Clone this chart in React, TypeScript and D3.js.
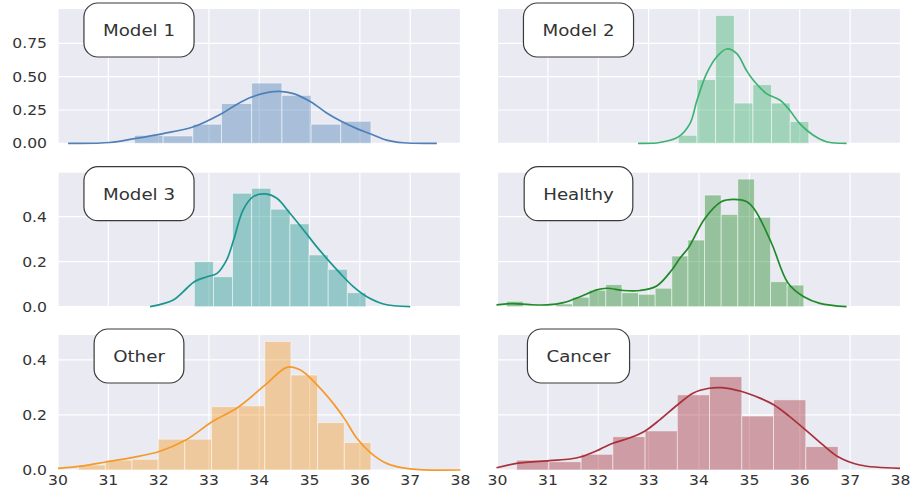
import React, { useEffect, useRef } from "react";
import * as d3 from "d3";

// ---------- data ----------
const panelNames = ["Model 1", "Model 2", "Model 3", "Healthy", "Other", "Cancer"];
const panelColors = ["#4f80b8", "#3cb371", "#1a968f", "#1f8a26", "#f59a2a", "#a8303a"];

const xTicks = [30, 31, 32, 33, 34, 35, 36, 37, 38];
const row1Ticks = [0, 0.25, 0.5, 0.75];
const row1TickLabels = ["0.00", "0.25", "0.50", "0.75"];
const row23Ticks = [0, 0.2, 0.4];
const row23TickLabels = ["0.0", "0.2", "0.4"];

const model1Edges = [31.52, 32.09, 32.68, 33.25, 33.85, 34.45, 35.03, 35.62, 36.22];
const model1Heights = [0.06, 0.055, 0.143, 0.298, 0.452, 0.36, 0.143, 0.165];
const model1KdeX = [30.2, 31.03, 31.52, 32.09, 32.68, 33.25, 33.55, 33.85, 34.15, 34.4, 34.68, 35.03, 35.34, 35.62, 35.94, 36.22, 36.53, 36.86, 37.53];
const model1KdeY = [0, 0.006, 0.035, 0.073, 0.122, 0.222, 0.292, 0.347, 0.38, 0.39, 0.373, 0.31, 0.228, 0.167, 0.11, 0.07, 0.024, 0.004, 0];

const model2Edges = [33.59, 33.96, 34.33, 34.7, 35.07, 35.44, 35.81, 36.18];
const model2Heights = [0.06, 0.478, 0.96, 0.302, 0.44, 0.302, 0.163];
const model2KdeX = [32.79, 33.22, 33.59, 33.82, 33.96, 34.15, 34.35, 34.55, 34.75, 34.94, 35.08, 35.34, 35.61, 35.8, 36.0, 36.27, 36.53, 36.93];
const model2KdeY = [0, 0.006, 0.048, 0.148, 0.323, 0.523, 0.648, 0.708, 0.673, 0.548, 0.473, 0.373, 0.323, 0.248, 0.148, 0.06, 0.012, 0];

const model3Edges = [32.71, 33.09, 33.47, 33.85, 34.23, 34.61, 34.99, 35.37, 35.75, 36.12];
const model3Heights = [0.2, 0.133, 0.504, 0.526, 0.433, 0.368, 0.23, 0.166, 0.062];
const model3KdeX = [31.83, 32.29, 32.56, 32.71, 32.96, 33.16, 33.35, 33.49, 33.68, 33.88, 34.12, 34.35, 34.61, 34.88, 35.14, 35.37, 35.61, 35.87, 36.14, 36.47, 37.0];
const model3KdeY = [0, 0.03, 0.082, 0.111, 0.133, 0.148, 0.207, 0.296, 0.43, 0.489, 0.501, 0.482, 0.415, 0.341, 0.267, 0.207, 0.148, 0.089, 0.044, 0.012, 0];

const healthyEdges = [30.18, 30.51, 30.84, 31.16, 31.49, 31.82, 32.15, 32.47, 32.8, 33.13, 33.46, 33.78, 34.11, 34.44, 34.77, 35.1, 35.42, 35.75, 36.08];
const healthyHeights = [0.024, 0, 0, 0.012, 0.042, 0.073, 0.098, 0.062, 0.055, 0.082, 0.225, 0.296, 0.496, 0.41, 0.567, 0.397, 0.111, 0.096];
const healthyKdeX = [29.98, 30.31, 30.64, 30.98, 31.31, 31.64, 31.97, 32.17, 32.5, 32.83, 33.16, 33.46, 33.62, 33.79, 34.12, 34.45, 34.68, 34.94, 35.11, 35.44, 35.77, 36.08, 36.4, 36.93];
const healthyKdeY = [0.008, 0.014, 0.009, 0.008, 0.018, 0.044, 0.075, 0.082, 0.072, 0.072, 0.092, 0.163, 0.215, 0.262, 0.393, 0.467, 0.477, 0.467, 0.43, 0.282, 0.104, 0.044, 0.015, 0];

const otherEdges = [30.41, 30.94, 31.47, 31.99, 32.52, 33.05, 33.58, 34.11, 34.63, 35.16, 35.69, 36.22];
const otherHeights = [0.018, 0.036, 0.039, 0.112, 0.112, 0.23, 0.233, 0.467, 0.345, 0.172, 0.1];
const otherKdeX = [30.0, 30.5, 30.97, 31.5, 32.01, 32.54, 33.07, 33.58, 34.12, 34.55, 34.81, 35.18, 35.47, 35.71, 35.94, 36.22, 36.53, 37.0, 38.0];
const otherKdeY = [0.006, 0.015, 0.03, 0.046, 0.067, 0.109, 0.176, 0.228, 0.309, 0.373, 0.364, 0.303, 0.242, 0.182, 0.115, 0.061, 0.024, 0.004, 0];

const cancerEdges = [30.38, 31.02, 31.66, 32.29, 32.93, 33.57, 34.21, 34.85, 35.48, 36.12, 36.76];
const cancerHeights = [0.036, 0.03, 0.057, 0.121, 0.142, 0.273, 0.339, 0.196, 0.255, 0.085];
const cancerKdeX = [29.98, 30.38, 31.03, 31.44, 31.66, 32.03, 32.29, 32.63, 32.93, 33.22, 33.57, 33.88, 34.2, 34.45, 34.85, 35.21, 35.49, 35.8, 36.12, 36.46, 36.76, 37.19, 37.99];
const cancerKdeY = [0.008, 0.024, 0.034, 0.04, 0.048, 0.075, 0.097, 0.117, 0.142, 0.182, 0.236, 0.279, 0.297, 0.299, 0.285, 0.261, 0.236, 0.194, 0.145, 0.091, 0.048, 0.018, 0.006];

const allEdges = [model1Edges, model2Edges, model3Edges, healthyEdges, otherEdges, cancerEdges];
const allHeights = [model1Heights, model2Heights, model3Heights, healthyHeights, otherHeights, cancerHeights];
const allKdeX = [model1KdeX, model2KdeX, model3KdeX, healthyKdeX, otherKdeX, cancerKdeX];
const allKdeY = [model1KdeY, model2KdeY, model3KdeY, healthyKdeY, otherKdeY, cancerKdeY];

// ---------- layout ----------
const W = 913;
const H = 498;
const colX = [[58, 460.5], [497.5, 900.5]];
const rowY = [[9, 143.3], [172.7, 306.7], [335, 470]];
const FONT = "'DejaVu Sans', Verdana, sans-serif";
const SX = 1.14;

export default function App() {
  const ref = useRef<SVGSVGElement | null>(null);

  useEffect(() => {
    const svg = d3.select(ref.current);
    svg.selectAll("*").remove();

    for (let r = 0; r < 3; r++) {
      const idxs = [r * 2, r * 2 + 1];
      const rowMax = d3.max(idxs.flatMap((i) => allHeights[i])) as number;
      const yMax = rowMax * 1.05;
      const ticks = r === 0 ? row1Ticks : row23Ticks;
      const tickLabels = r === 0 ? row1TickLabels : row23TickLabels;

      for (let c = 0; c < 2; c++) {
        const i = idxs[c];
        const [x0, x1] = colX[c];
        const [y0, y1] = rowY[r];
        const x = d3.scaleLinear().domain([30, 38]).range([x0, x1]);
        const y = d3.scaleLinear().domain([0, yMax]).range([y1, y0]);
        const g = svg.append("g");

        g.append("rect")
          .attr("x", x0).attr("y", y0)
          .attr("width", x1 - x0).attr("height", y1 - y0)
          .attr("fill", "#eaeaf2");

        // grid
        g.selectAll(".vx").data(xTicks).enter().append("line")
          .attr("x1", (d) => x(d)).attr("x2", (d) => x(d))
          .attr("y1", y0).attr("y2", y1)
          .attr("stroke", "#ffffff").attr("stroke-width", 1.2);
        g.selectAll(".hy").data(ticks).enter().append("line")
          .attr("x1", x0).attr("x2", x1)
          .attr("y1", (d) => y(d)).attr("y2", (d) => y(d))
          .attr("stroke", "#ffffff").attr("stroke-width", 1.2);

        // bars
        const edges = allEdges[i];
        const heights = allHeights[i];
        const color = panelColors[i];
        g.selectAll(".bar").data(heights).enter().append("rect")
          .attr("x", (_d, k) => x(edges[k]))
          .attr("width", (_d, k) => x(edges[k + 1]) - x(edges[k]))
          .attr("y", (d) => y(d))
          .attr("height", (d) => y(0) - y(d))
          .attr("fill", color).attr("fill-opacity", 0.42)
          .attr("stroke", "#ffffff").attr("stroke-opacity", 0.55).attr("stroke-width", 0.9);

        // kde
        const kx = allKdeX[i];
        const ky = allKdeY[i];
        const pts: [number, number][] = kx.map((v, k) => [v, ky[k]]);
        const line = d3.line<[number, number]>()
          .x((d) => x(d[0])).y((d) => y(d[1]))
          .curve(d3.curveCatmullRom.alpha(0.5));
        g.append("path").attr("d", line(pts) as string)
          .attr("fill", "none").attr("stroke", color).attr("stroke-width", 1.7)
          .attr("stroke-linejoin", "round");

        // y tick labels (left column only)
        if (c === 0) {
          ticks.forEach((t, k) => {
            g.append("text")
              .attr("transform", `translate(${x0 - 11},${y(t) + 5}) scale(${SX},1)`)
              .attr("text-anchor", "end")
              .attr("font-family", FONT).attr("font-size", 13.7)
              .attr("fill", "#333333")
              .text(tickLabels[k]);
          });
        }
        // x tick labels (bottom row only)
        if (r === 2) {
          xTicks.forEach((t) => {
            g.append("text")
              .attr("transform", `translate(${x(t)},${y1 + 15}) scale(${SX},1)`)
              .attr("text-anchor", "middle")
              .attr("font-family", FONT).attr("font-size", 13.7)
              .attr("fill", "#333333")
              .text(String(t));
          });
        }

        // label box
        const cx = x0 + 81;
        const cy = y0 + 21;
        const boxG = g.append("g");
        const rect = boxG.append("rect");
        const txt = boxG.append("text")
          .attr("transform", `translate(${cx},${cy + 5.8}) scale(${SX},1)`)
          .attr("text-anchor", "middle")
          .attr("font-family", FONT).attr("font-size", 16)
          .attr("fill", "#333333")
          .text(panelNames[i]);
        const tw = ((txt.node() as SVGTextElement).getComputedTextLength()) * SX;
        const bw = tw + 38;
        const bh = 54;
        rect.attr("x", cx - bw / 2).attr("y", cy - bh / 2)
          .attr("width", bw).attr("height", bh)
          .attr("rx", 14).attr("ry", 14)
          .attr("fill", "#ffffff").attr("stroke", "#3a3a3a").attr("stroke-width", 1.2);
      }
    }
  }, []);

  return (
    <div style={{ position: "absolute", left: 0, top: 0, width: W, height: H, background: "#ffffff" }}>
      <svg ref={ref} width={W} height={H} style={{ display: "block" }} />
    </div>
  );
}
